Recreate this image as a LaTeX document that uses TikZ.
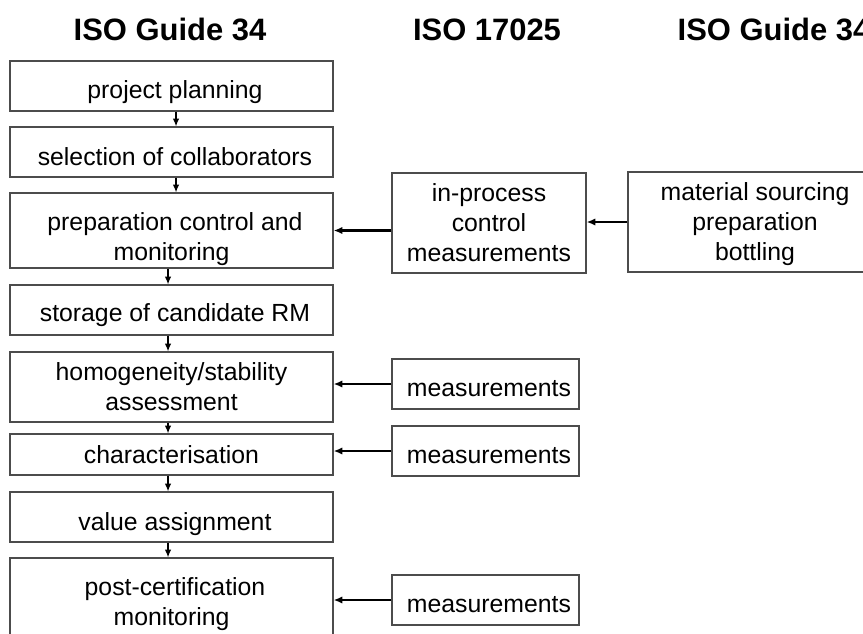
\documentclass[tikz,border=0pt]{standalone}
\usepackage{fontspec}
\setmainfont{Liberation Sans}
\usetikzlibrary{arrows.meta}

\tikzset{
  stepbox/.style={draw=black!70, line width=0.9pt, align=center, inner sep=0pt,
                  font=\fontsize{18.6}{22.5}\selectfont},
  leftbox/.style={stepbox, minimum width=242.25pt},
  measbox/.style={stepbox, minimum width=140.25pt, minimum height=37.5pt, lowtext=18.5pt},
  lowtext/.style={text height=#1, text depth=0pt},
  headline/.style={font=\fontsize{23.2}{26}\selectfont\bfseries, anchor=base},
  downarr/.style={-{Latex[length=5.8pt,width=4.8pt]}, line width=0.9pt},
  sidearr/.style={-{Latex[length=6.5pt,width=5.5pt]}, line width=1.6pt}
}
\newcommand{\lead}{\hspace*{5.2pt}}

\begin{document}
\begin{tikzpicture}[x=0.75pt, y=-0.75pt]
  \useasboundingbox (0,0) rectangle (863,633);
  \clip (0,0) rectangle (863,633);

  % column headings
  \node[headline] (hleft) at (170,40) {ISO Guide 34};
  \node[headline] (hmid) at (487,40) {ISO 17025};
  \node[headline, anchor=base west] (hright) at (673,40) {ISO Guide 34};

  % main chain
  \node[leftbox, minimum height=37.5pt, lowtext=18.5pt]   (plan)   at (171.5,86)    {\lead project planning};
  \node[leftbox, minimum height=37.5pt, lowtext=19.5pt]   (collab) at (171.5,152)   {\lead selection of collaborators};
  \node[leftbox, minimum height=56.25pt, lowtext=44.25pt] (prep)   at (171.5,230.5) {\lead preparation control and\\monitoring};
  \node[leftbox, minimum height=37.5pt, lowtext=17.5pt]   (store)  at (171.5,310)   {\lead storage of candidate RM};
  \node[leftbox, minimum height=52.5pt, lowtext=34.5pt]   (homog)  at (171.5,387)   {homogeneity/stability\\assessment};
  \node[leftbox, minimum height=30.75pt, lowtext=13.2pt]  (charac) at (171.5,454.5) {characterisation};
  \node[leftbox, minimum height=37.5pt, lowtext=19.5pt]   (value)  at (171.5,517)   {\lead value assignment};
  \node[leftbox, minimum height=61.5pt, lowtext=39pt]     (post)   at (171.5,599)   {\lead post-certification\\monitoring};

  \draw[downarr] ([xshift=3.4pt]plan.south)    -- ([xshift=3.4pt]collab.north);
  \draw[downarr] ([xshift=3.4pt]collab.south)  -- ([xshift=3.4pt]prep.north);
  \draw[downarr] ([xshift=-2.6pt]prep.south)   -- ([xshift=-2.6pt]store.north);
  \draw[downarr] ([xshift=-2.6pt]store.south)  -- ([xshift=-2.6pt]homog.north);
  \draw[downarr] ([xshift=-2.6pt]homog.south)  -- ([xshift=-2.6pt]charac.north);
  \draw[downarr] ([xshift=-2.6pt]charac.south) -- ([xshift=-2.6pt]value.north);
  \draw[downarr] ([xshift=-2.6pt]value.south)  -- ([xshift=-2.6pt]post.north);

  % measurement boxes
  \node[stepbox, minimum width=145.5pt, minimum height=75pt, lowtext=57pt] (inproc) at (489,223)
       {in-process\\control\\measurements};
  \node[stepbox, minimum width=190.5pt, minimum height=75pt, lowtext=57pt] (source) at (755,222)
       {material sourcing\\preparation\\bottling};
  \node[measbox] (meashom)  at (485.5,384) {\lead measurements};
  \node[measbox] (measchar) at (485.5,451) {\lead measurements};
  \node[measbox] (measpost) at (485.5,600) {\lead measurements};

  \draw[sidearr] (source.west) -- (source.west -| inproc.east);
  \draw[sidearr] (inproc.west |- prep.east) -- (prep.east);
  \draw[sidearr] (meashom.west)  -- (meashom.west -| homog.east);
  \draw[sidearr] (measchar.west) -- (measchar.west -| charac.east);
  \draw[sidearr] (measpost.west) -- (measpost.west -| post.east);
\end{tikzpicture}
\end{document}
